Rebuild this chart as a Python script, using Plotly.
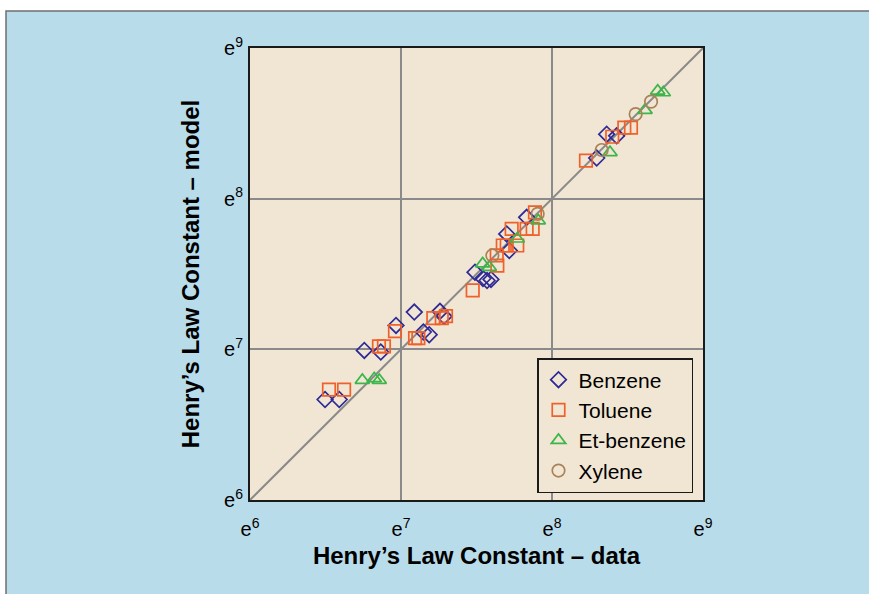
import plotly.graph_objects as go

# Values are natural-log exponents (axis ticks e^6 ... e^9)
benzene_data = [6.497, 6.591, 6.757, 6.866, 6.967, 7.088, 7.148, 7.187, 7.258, 7.285,
                7.490, 7.543, 7.570, 7.596, 7.700, 7.717, 7.832, 8.296, 8.362, 8.428]
benzene_model = [6.667, 6.667, 6.993, 6.982, 7.159, 7.247, 7.115, 7.097, 7.252, 7.219,
                 7.512, 7.470, 7.457, 7.464, 7.766, 7.656, 7.876, 8.270, 8.428, 8.417]

toluene_data = [6.523, 6.623, 6.854, 6.887, 6.960, 7.093, 7.115, 7.214, 7.270, 7.298,
                7.475, 7.638, 7.634, 7.674, 7.700, 7.770, 7.733, 7.832, 7.872, 7.887,
                8.225, 8.399, 8.479, 8.523]
toluene_model = [6.733, 6.733, 7.020, 7.020, 7.121, 7.075, 7.075, 7.207, 7.207, 7.220,
                 7.391, 7.556, 7.623, 7.689, 7.689, 7.689, 7.799, 7.799, 7.799, 7.909,
                 8.252, 8.411, 8.472, 8.472]

etbenzene_data = [6.744, 6.823, 6.856, 7.541, 7.585, 7.770, 7.909, 8.384, 8.616, 8.700, 8.737]
etbenzene_model = [6.795, 6.806, 6.795, 7.568, 7.545, 7.733, 7.854, 8.307, 8.587, 8.715, 8.704]

xylene_data = [7.605, 7.905, 8.329, 8.554, 8.656]
xylene_model = [7.623, 7.899, 8.323, 8.561, 8.644]

tick_vals = [6, 7, 8, 9]
tick_text = ["e<sup>6</sup>", "e<sup>7</sup>", "e<sup>8</sup>", "e<sup>9</sup>"]
parity = [6, 9]

FONT = "Liberation Sans, Arial, Helvetica, sans-serif"
GRID = "#8a8a8a"
BEIGE = "#f1e6d3"
BLUE = "#b9dcea"

fig = go.Figure()

fig.add_trace(go.Scatter(x=parity, y=parity, mode="lines",
                         line=dict(color=GRID, width=2), showlegend=False, hoverinfo="skip"))

series = [
    ("Benzene", benzene_data, benzene_model, "diamond-open", "#2e2a96", 12),
    ("Toluene", toluene_data, toluene_model, "square-open", "#f0602a", 12.5),
    ("Et-benzene", etbenzene_data, etbenzene_model, "triangle-up-open", "#3cb54a", 12.5),
    ("Xylene", xylene_data, xylene_model, "circle-open", "#a9825a", 12.5),
]
for name, xs, ys, sym, col, sz in series:
    fig.add_trace(go.Scatter(x=xs, y=ys, mode="markers", name=name, legendgroup=name,
                             marker=dict(symbol=sym, size=sz, color=col,
                                         line=dict(color=col, width=1.7))))

L, R, T, B = 250, 166, 48, 94
W, H = 869, 594
pw, ph = W - L - R, H - T - B

def px(xp):
    return (xp - L) / pw

def py(yp):
    return (H - B - yp) / ph

fig.update_layout(
    width=W, height=H,
    margin=dict(l=L, r=R, t=T, b=B, pad=0),
    paper_bgcolor="white",
    plot_bgcolor="rgba(0,0,0,0)",
    font=dict(family=FONT, color="black"),
    shapes=[
        dict(type="rect", xref="paper", yref="paper", layer="below",
             x0=px(6), x1=px(872), y0=py(600), y1=py(11),
             fillcolor=BLUE, line=dict(color="#6f6f6f", width=1.5)),
        dict(type="rect", xref="paper", yref="paper", layer="below",
             x0=0, x1=1, y0=0, y1=1, fillcolor=BEIGE, line=dict(width=0)),
    ],
    xaxis=dict(range=[6, 9], tickvals=tick_vals, ticktext=tick_text,
               showgrid=True, gridcolor=GRID, gridwidth=1.5, zeroline=False,
               showline=True, linecolor="#1a1a1a", linewidth=2, mirror=True,
               ticks="", ticklabelstandoff=10, tickfont=dict(size=20, family=FONT),
               title=dict(text="<b>Henry’s Law Constant – data</b>",
                          font=dict(size=24, family=FONT), standoff=8)),
    yaxis=dict(range=[6, 9], tickvals=tick_vals, ticktext=tick_text,
               showgrid=True, gridcolor=GRID, gridwidth=1.5, zeroline=False,
               showline=True, linecolor="#1a1a1a", linewidth=2, mirror=True,
               ticks="", ticklabelstandoff=1, tickfont=dict(size=20, family=FONT),
               title=dict(text="<b>Henry’s Law Constant – model</b>",
                          font=dict(size=24, family=FONT), standoff=18)),
    legend=dict(x=px(537), y=py(493), xanchor="left", yanchor="bottom",
                bgcolor=BEIGE, bordercolor="#1a1a1a", borderwidth=1.5,
                font=dict(size=21, family=FONT), tracegroupgap=0),
    showlegend=True,
)

fig.write_html("out.html")
